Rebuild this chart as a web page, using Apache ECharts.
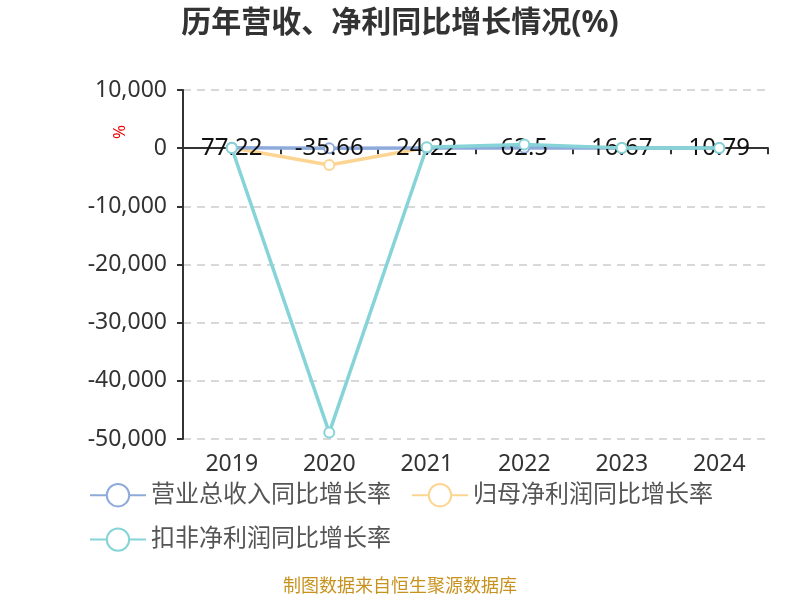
<!DOCTYPE html>
<html><head><meta charset="utf-8">
<script src="https://cdn.jsdelivr.net/npm/echarts@6/dist/echarts.min.js"></script>
<style>html,body{margin:0;padding:0;background:#fff}#c{width:800px;height:600px}</style>
</head><body><div id="c"></div>
<script>
const categories = ['2019','2020','2021','2022','2023','2024'];
const revenueGrowth = [77.22, -35.66, 24.22, 62.5, 16.67, 10.79];
const netProfitGrowth = [60, -2900, 100, 400, 30, 15];
const deductedProfitGrowth = [30, -48900, 150, 650, 50, 20];
const seriesNames = ['营业总收入同比增长率', '归母净利润同比增长率', '扣非净利润同比增长率'];
const yTicks = {min: -50000, max: 10000, interval: 10000};

const chart = echarts.init(document.getElementById('c'));
const font = '"Noto Sans","Noto Sans CJK SC",sans-serif';
function mk(name, data, color, z, showLabel) {
  return {
    name, type: 'line', data, z,
    symbol: 'emptyCircle', symbolSize: 10,
    lineStyle: {color, width: 3.5},
    itemStyle: {color, borderWidth: 2},
    label: showLabel ? {show: true, position: 'inside', color: '#111', fontSize: 24, fontFamily: font} : {show: false}
  };
}
chart.setOption({
  animation: false,
  title: {text: '历年营收、净利同比增长情况(%)', left: 'center', top: 3,
    textStyle: {fontSize: 30, fontWeight: 'bold', color: '#333', fontFamily: font}},
  grid: {left: 183, right: 32, top: 90, bottom: 161, containLabel: false},
  legend: {left: 84, top: 478, width: 690, itemWidth: 56, itemHeight: 28, itemGap: 20,
    textStyle: {fontSize: 24, color: '#555', fontFamily: font},
    data: seriesNames},
  xAxis: {type: 'category', data: categories, boundaryGap: true,
    axisLine: {onZero: true, lineStyle: {color: '#333', width: 2}},
    axisTick: {show: true, length: 6, lineStyle: {color: '#333', width: 2}},
    axisLabel: {fontSize: 23, color: '#333', fontFamily: font, margin: 14},
    position: 'bottom'},
  yAxis: {type: 'value', min: yTicks.min, max: yTicks.max, interval: yTicks.interval,
    axisLine: {show: true, lineStyle: {color: '#333', width: 2}},
    axisTick: {show: true, length: 6, lineStyle: {color: '#333', width: 2}},
    axisLabel: {fontSize: 23, color: '#333', fontFamily: font, margin: 16},
    splitLine: {show: true, lineStyle: {color: '#ccc', type: [8, 6], width: 1.5}}},
  series: [
    mk(seriesNames[0], revenueGrowth, '#8eaadb', 3, true),
    mk(seriesNames[1], netProfitGrowth, '#fdd592', 2, false),
    mk(seriesNames[2], deductedProfitGrowth, '#86d4d8', 4, false)
  ],
  graphic: [
    {type: 'text', x: 120, y: 132, rotation: Math.PI / 2,
      style: {text: '%', fill: '#e00', fontSize: 17, fontFamily: font, align: 'center', verticalAlign: 'middle'}},
    {type: 'text', left: 'center', top: 578,
      style: {text: '制图数据来自恒生聚源数据库', fill: '#c8921e', fontSize: 18, fontFamily: font}}]
});
</script></body></html>
